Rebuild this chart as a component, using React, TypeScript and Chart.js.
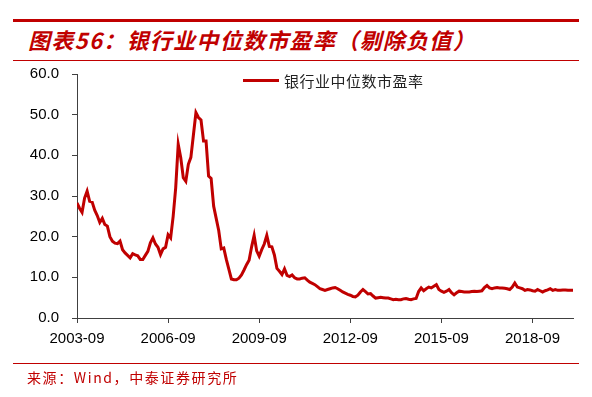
import React, { useEffect, useRef } from "react";
import { Chart, registerables } from "chart.js";

Chart.register(...registerables);

// Monthly median P/E (ex-negative) of bank sector, starting 2003-09
const startYear = 2003;
const startMonth = 9;
const peValues = [
  28.3, 27.0, 26.0, 29.5, 31.2, 28.7, 28.5, 26.5, 25.2, 23.5,
  24.5, 23.0, 22.6, 20.0, 18.9, 18.4, 18.3, 18.9, 16.8, 16.0,
  15.4, 14.8, 15.8, 15.5, 15.3, 14.4, 14.4, 15.4, 16.4, 18.5,
  19.7, 18.2, 17.4, 15.6, 17.0, 17.4, 20.5, 19.7, 25.0, 32.0,
  42.7, 39.4, 34.5, 33.6, 37.8, 39.5, 45.0, 50.5, 49.3, 48.7,
  43.5, 43.5, 34.9, 34.3, 27.5, 24.5, 21.5, 17.0, 17.2, 14.4,
  12.0, 9.6, 9.4, 9.4, 9.8, 10.6, 11.8, 13.1, 14.2, 17.5,
  20.3, 16.5, 15.2, 16.8, 18.2, 20.3, 17.6, 17.5, 15.5, 12.2,
  11.5, 10.7, 12.1, 10.5, 10.2, 10.6, 9.9, 9.6, 9.6, 9.8,
  9.9, 9.3, 8.8, 8.5, 8.2, 7.7, 7.2, 7.0, 6.8, 7.0,
  7.2, 7.4, 7.5, 7.2, 6.8, 6.4, 6.1, 5.8, 5.6, 5.3,
  5.2, 5.6, 6.4, 7.0, 6.5, 5.9, 6.0, 5.4, 4.9, 5.0,
  5.1, 5.0, 4.9, 4.9, 4.7, 4.5, 4.6, 4.5, 4.5, 4.7,
  4.8, 4.6, 4.5, 4.7, 4.8, 6.5, 7.4, 6.7, 7.2, 7.6,
  7.4, 7.8, 8.2, 7.0, 6.6, 6.3, 6.6, 7.0, 6.2, 5.7,
  6.2, 6.6, 6.5, 6.4, 6.4, 6.4, 6.5, 6.6, 6.5, 6.6,
  6.7, 7.5, 8.0, 7.4, 7.2, 7.4, 7.5, 7.4, 7.4, 7.3,
  7.2, 7.0, 7.6, 8.6, 7.6, 7.4, 7.2, 6.8, 7.0, 6.9,
  6.7, 6.6, 7.0, 6.7, 6.4, 6.7, 6.9, 7.2, 6.8, 7.0,
  6.8, 6.8, 6.9, 6.9, 6.8, 6.8, 6.8,
];
const tickMonths = [0, 36, 72, 108, 144, 180];
const tickLabels = ["2003-09", "2006-09", "2009-09", "2012-09", "2015-09", "2018-09"];
const yTickValues = [0, 10, 20, 30, 40, 50, 60];
const seriesName = "银行业中位数市盈率";
const titleText = "图表56：银行业中位数市盈率（剔除负值）";
const sourceText = "来源：Wind，中泰证券研究所";

const RED = "#C00000";
const AXIS = "#404040";

export default function App() {
  const canvasRef = useRef<HTMLCanvasElement | null>(null);

  useEffect(() => {
    const canvas = canvasRef.current;
    if (!canvas) return;
    const points = peValues.map((v, i) => ({ x: i, y: v }));
    const chart = new Chart(canvas, {
      type: "line",
      data: {
        datasets: [
          {
            label: seriesName,
            data: points,
            borderColor: RED,
            backgroundColor: RED,
            borderWidth: 3,
            pointRadius: 0,
            tension: 0,
          },
        ],
      },
      options: {
        animation: false,
        responsive: false,
        maintainAspectRatio: false,
        layout: { padding: { left: 0, right: 19, top: 74, bottom: 0 } },
        plugins: { legend: { display: false }, tooltip: { enabled: false } },
        scales: {
          x: {
            type: "linear",
            min: 0,
            max: peValues.length - 1,
            afterBuildTicks: (scale: any) => {
              scale.ticks = tickMonths.map((v) => ({ value: v }));
            },
            afterFit: (scale: any) => {
              scale.height = 79;
            },
            grid: {
              drawOnChartArea: false,
              drawTicks: true,
              tickLength: 5,
              color: AXIS,
            },
            border: { display: true, color: AXIS, width: 1 },
            ticks: {
              autoSkip: false,
              maxRotation: 0,
              padding: 7,
              color: "#000",
              font: { family: "'Liberation Sans', Arial, sans-serif", size: 15 },
              callback: (value: any) => {
                const idx = tickMonths.indexOf(Number(value));
                return idx >= 0 ? tickLabels[idx] : "";
              },
            },
          },
          y: {
            min: 0,
            max: 60,
            afterBuildTicks: (scale: any) => {
              scale.ticks = yTickValues.map((v) => ({ value: v }));
            },
            afterFit: (scale: any) => {
              scale.width = 77;
            },
            grid: {
              drawOnChartArea: false,
              drawTicks: true,
              tickLength: 5,
              color: AXIS,
            },
            border: { display: true, color: AXIS, width: 1 },
            ticks: {
              padding: 13,
              color: "#000",
              font: { family: "'Liberation Sans', Arial, sans-serif", size: 15 },
              callback: (value: any) => Number(value).toFixed(1),
            },
          },
        },
      },
    });
    return () => chart.destroy();
  }, []);

  return (
    <div style={{ position: "absolute", left: 0, top: 0, width: 592, height: 397, background: "#fff", overflow: "hidden" }}>
      <div style={{ position: "absolute", left: 13, top: 19, width: 566, height: 3, background: RED }} />
      <div
        style={{
          position: "absolute",
          left: 28,
          top: 25,
          fontFamily: "'Noto Sans CJK SC', sans-serif",
          fontSize: 22,
          fontWeight: 700,
          fontStyle: "italic",
          letterSpacing: "1.3px",
          color: RED,
          whiteSpace: "nowrap",
          lineHeight: "28px",
        }}
      >
        {titleText}
      </div>
      <div style={{ position: "absolute", left: 13, top: 60, width: 566, height: 1, background: RED }} />
      <canvas ref={canvasRef} width={592} height={397} style={{ position: "absolute", left: 0, top: 0, width: 592, height: 397 }} />
      <div style={{ position: "absolute", left: 243, top: 79, width: 36, height: 3, background: RED }} />
      <div
        style={{
          position: "absolute",
          left: 284,
          top: 71,
          fontFamily: "'Noto Sans CJK SC', sans-serif",
          fontSize: 15,
          letterSpacing: "0.5px",
          color: "#222",
          whiteSpace: "nowrap",
          lineHeight: "20px",
        }}
      >
        {seriesName}
      </div>
      <div style={{ position: "absolute", left: 13, top: 363, width: 566, height: 1, background: RED }} />
      <div
        style={{
          position: "absolute",
          left: 27,
          top: 367,
          fontFamily: "'Noto Sans CJK SC', sans-serif",
          fontSize: 14,
          letterSpacing: "1.6px",
          color: RED,
          whiteSpace: "nowrap",
          lineHeight: "20px",
        }}
      >
        {sourceText}
      </div>
    </div>
  );
}
